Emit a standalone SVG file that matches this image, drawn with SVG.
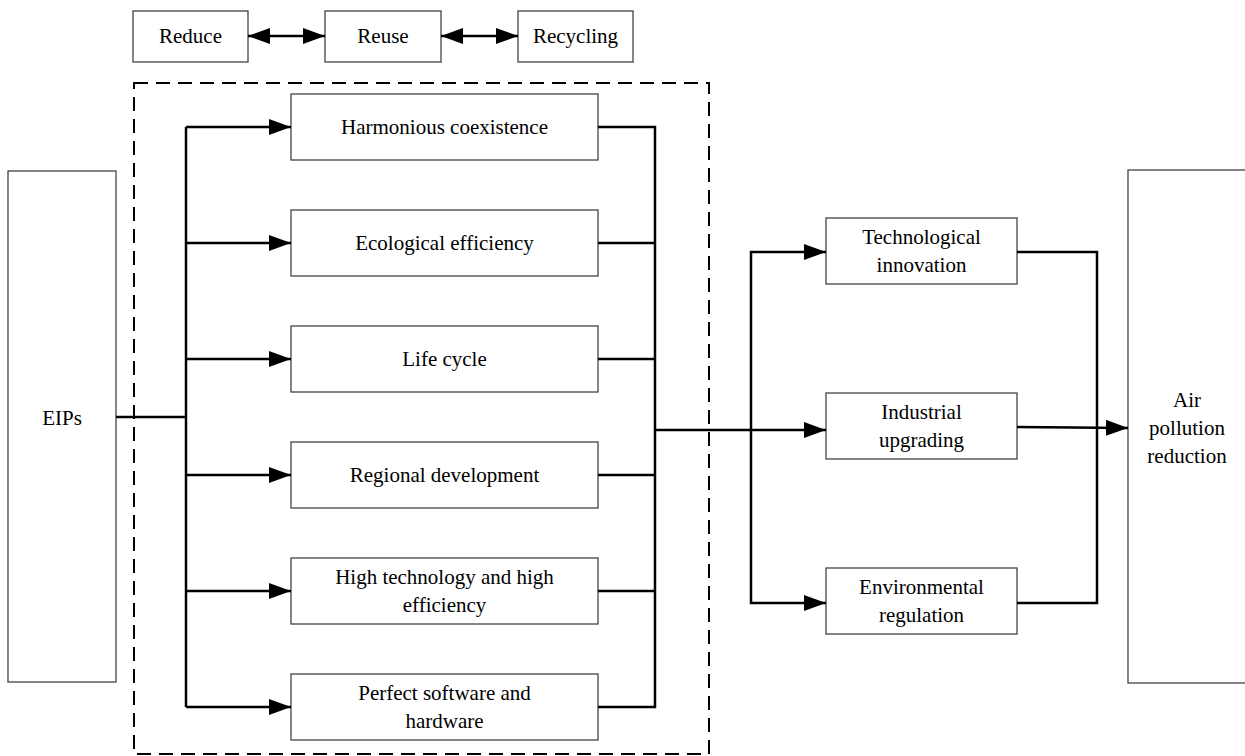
<svg xmlns="http://www.w3.org/2000/svg" width="1245" height="756" viewBox="0 0 1245 756">
<style>
.box{fill:#fff;stroke:#444;stroke-width:1.3}
.t{font-family:"Liberation Serif","Times New Roman",serif;font-size:21px;fill:#000;text-anchor:middle}
.c{fill:none;stroke:#000;stroke-width:2.5}
.a{fill:none;stroke:#000;stroke-width:2.5;marker-end:url(#ah)}
.d{fill:none;stroke:#000;stroke-width:2.5;marker-end:url(#ah);marker-start:url(#ah)}
.dash{fill:none;stroke:#000;stroke-width:2;stroke-dasharray:14,8}
</style>
<defs>
<marker id="ah" markerUnits="userSpaceOnUse" markerWidth="22" markerHeight="16" refX="22" refY="8" orient="auto-start-reverse" viewBox="0 0 22 16">
<path d="M0,0 L22,8 L0,16 z" fill="#000"/>
</marker>
</defs>
<g id="dashed-frame"><rect class="dash" x="134" y="83" width="575" height="671"/></g>
<g id="reduce"><rect class="box" x="133" y="11" width="115" height="51"/><text class="t" x="190.5" y="43">Reduce</text></g>
<g id="reuse"><rect class="box" x="325" y="11" width="116" height="51"/><text class="t" x="383" y="43">Reuse</text></g>
<g id="recycling"><rect class="box" x="518" y="11" width="115" height="51"/><text class="t" x="575.5" y="43">Recycling</text></g>
<g id="eips"><rect class="box" x="8" y="171" width="108" height="511"/><text class="t" x="62" y="425">EIPs</text></g>
<g id="harmonious"><rect class="box" x="291" y="94" width="307" height="66"/><text class="t" x="444.5" y="134">Harmonious coexistence</text></g>
<g id="ecological"><rect class="box" x="291" y="210" width="307" height="66"/><text class="t" x="444.5" y="250">Ecological efficiency</text></g>
<g id="lifecycle"><rect class="box" x="291" y="326" width="307" height="66"/><text class="t" x="444.5" y="366">Life cycle</text></g>
<g id="regional"><rect class="box" x="291" y="442" width="307" height="66"/><text class="t" x="444.5" y="482">Regional development</text></g>
<g id="hightech"><rect class="box" x="291" y="558" width="307" height="66"/><text class="t" x="444.5" y="584">High technology and high</text><text class="t" x="444.5" y="612">efficiency</text></g>
<g id="perfect"><rect class="box" x="291" y="674" width="307" height="66"/><text class="t" x="444.5" y="700">Perfect software and</text><text class="t" x="444.5" y="728">hardware</text></g>
<g id="tech"><rect class="box" x="826" y="218" width="191" height="66"/><text class="t" x="921.5" y="244">Technological</text><text class="t" x="921.5" y="272">innovation</text></g>
<g id="industrial"><rect class="box" x="826" y="393" width="191" height="66"/><text class="t" x="921.5" y="419">Industrial</text><text class="t" x="921.5" y="447">upgrading</text></g>
<g id="environmental"><rect class="box" x="826" y="568" width="191" height="66"/><text class="t" x="921.5" y="594">Environmental</text><text class="t" x="921.5" y="622">regulation</text></g>
<g id="air"><rect class="box" x="1128" y="170" width="130" height="513"/><text class="t" x="1187" y="407">Air</text><text class="t" x="1187" y="435">pollution</text><text class="t" x="1187" y="463">reduction</text></g>
<g id="connectors">
<line class="d" x1="248" y1="36" x2="325" y2="36"/>
<line class="d" x1="441" y1="36" x2="518" y2="36"/>
<line class="c" x1="116" y1="417" x2="186" y2="417"/>
<line class="c" x1="186" y1="127" x2="186" y2="707"/>
<line class="a" x1="186" y1="127" x2="291" y2="127"/>
<line class="a" x1="186" y1="243" x2="291" y2="243"/>
<line class="a" x1="186" y1="359" x2="291" y2="359"/>
<line class="a" x1="186" y1="475" x2="291" y2="475"/>
<line class="a" x1="186" y1="591" x2="291" y2="591"/>
<line class="a" x1="186" y1="707" x2="291" y2="707"/>
<polyline class="c" points="598,127 655,127 655,707 598,707"/>
<line class="c" x1="598" y1="243" x2="655" y2="243"/>
<line class="c" x1="598" y1="359" x2="655" y2="359"/>
<line class="c" x1="598" y1="475" x2="655" y2="475"/>
<line class="c" x1="598" y1="591" x2="655" y2="591"/>
<line class="a" x1="655" y1="430" x2="826" y2="430"/>
<polyline class="a" points="751,430 751,252 826,252"/>
<polyline class="a" points="751,430 751,603 826,603"/>
<polyline class="c" points="1017,252 1097,252 1097,603 1017,603"/>
<line class="a" x1="1017" y1="427" x2="1128" y2="428"/>
</g>
</svg>
